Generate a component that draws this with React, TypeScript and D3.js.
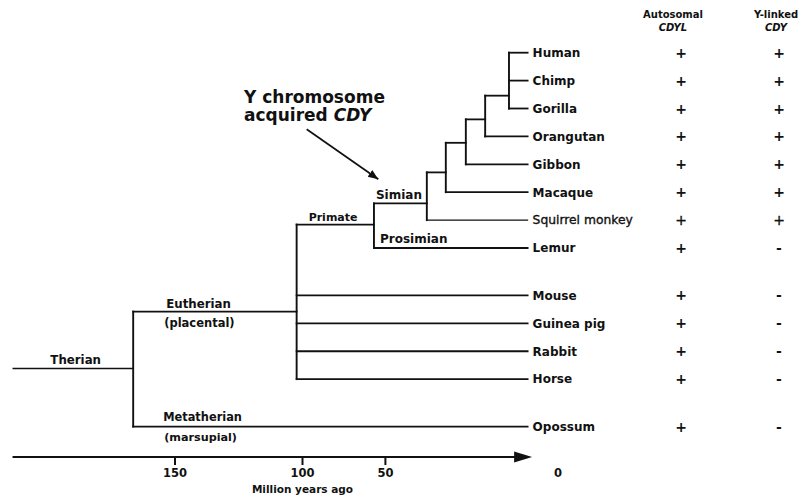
import { useEffect, useRef } from "react";
import * as d3 from "d3";

const width = 809;
const height = 504;

// leaves, top to bottom (row = vertical slot)
const leafNames = ["Human", "Chimp", "Gorilla", "Orangutan", "Gibbon", "Macaque", "Squirrel monkey", "Lemur", "Mouse", "Guinea pig", "Rabbit", "Horse", "Opossum"];
const leafRows = [0, 1, 2, 3, 4, 5, 6, 7, 8.7, 9.7, 10.7, 11.7, 13.4];
const autosomalCDYL = ["+", "+", "+", "+", "+", "+", "+", "+", "+", "+", "+", "+", "+"];
const yLinkedCDY = ["+", "+", "+", "+", "+", "+", "+", "-", "-", "-", "-", "-", "-"];
const leafAge = 8.8;

// internal nodes (age in Mya as drawn, row of the stem)
const nodeNames = ["hcg", "hcgo", "hominoid", "catarrhine", "simian", "primate", "eutherian", "therian"];
const nodeAges = [14.2, 21.1, 26.7, 32.5, 38.0, 56.9, 102.3, 166.4];
const nodeRows = [1.54, 2.39, 3.23, 4.29, 5.4, 6.16, 9.28, 11.32];
const nodeChildren = [
  ["Human", "Chimp", "Gorilla"],
  ["hcg", "Orangutan"],
  ["hcgo", "Gibbon"],
  ["hominoid", "Macaque"],
  ["catarrhine", "Squirrel monkey"],
  ["simian", "Lemur"],
  ["primate", "Mouse", "Guinea pig", "Rabbit", "Horse"],
  ["eutherian", "Opossum"],
];
const rootAge = 213.4;

// time axis (the original is not drawn to scale)
const tickValues = [150, 100, 50];
const tickLabels = ["150", "100", "50", "0"];
const axisStart = 213.7;
const axisEnd = 7.5;

const font = "'DejaVu Sans', sans-serif";

function App() {
  const ref = useRef(null);

  useEffect(() => {
    const root = d3.select(ref.current);
    root.selectAll("*").remove();
    const svg = root
      .append("svg")
      .attr("width", width)
      .attr("height", height)
      .style("position", "absolute")
      .style("left", 0)
      .style("top", 0)
      .style("background", "#fff");

    const x = d3.scaleLinear().domain([150, 100, 50, 0]).range([175, 302.5, 385.4, 558]);
    const y = d3.scaleLinear().domain([0, 7]).range([52.7, 248]);

    // lookup of age/row by name
    const info = {};
    leafNames.forEach((n, i) => (info[n] = { age: leafAge, row: leafRows[i] }));
    nodeNames.forEach((n, i) => (info[n] = { age: nodeAges[i], row: nodeRows[i] }));

    const thin = (n) => n === "Squirrel monkey";
    const g = svg.append("g").attr("stroke", "#111").attr("fill", "none").attr("stroke-linecap", "square");

    // tree branches
    nodeNames.forEach((n, i) => {
      const kids = nodeChildren[i];
      const rows = kids.map((k) => info[k].row);
      g.append("line")
        .attr("x1", x(nodeAges[i]))
        .attr("x2", x(nodeAges[i]))
        .attr("y1", y(d3.min(rows)))
        .attr("y2", y(d3.max(rows)))
        .attr("stroke-width", 1.9);
      kids.forEach((k) => {
        g.append("line")
          .attr("x1", x(nodeAges[i]))
          .attr("x2", x(info[k].age))
          .attr("y1", y(info[k].row))
          .attr("y2", y(info[k].row))
          .attr("stroke-width", thin(k) ? 1.1 : 1.8);
      });
    });
    // root stem
    g.append("line")
      .attr("x1", x(rootAge))
      .attr("x2", x(info.therian.age))
      .attr("y1", y(info.therian.row))
      .attr("y2", y(info.therian.row))
      .attr("stroke-width", 1.6);

    // leaf labels and presence columns
    const t = svg.append("g").attr("font-family", font).attr("fill", "#111");
    const weight = (sel, n) =>
      thin(n)
        ? sel.attr("font-weight", "normal").attr("stroke", "#111").attr("stroke-width", 0.35)
        : sel.attr("font-weight", "bold");
    leafNames.forEach((n, i) => {
      const yy = y(leafRows[i]);
      weight(
        t.append("text")
          .attr("x", x(leafAge) + 5)
          .attr("y", yy + 4.3)
          .attr("font-size", thin(n) ? 12.3 : 12)
          .text(n),
        n
      );
      weight(
        t.append("text")
          .attr("x", 681)
          .attr("y", yy + 5)
          .attr("text-anchor", "middle")
          .attr("font-size", 14)
          .text(autosomalCDYL[i]),
        n
      );
      weight(
        t.append("text")
          .attr("x", 779)
          .attr("y", yy + 5)
          .attr("text-anchor", "middle")
          .attr("font-size", 14)
          .text(yLinkedCDY[i]),
        n
      );
    });

    // column headers
    const header = (cx, top, gene) => {
      t.append("text").attr("x", cx).attr("y", 17.5).attr("text-anchor", "middle")
        .attr("font-size", 10).attr("font-weight", "bold").text(top);
      t.append("text").attr("x", cx).attr("y", 31).attr("text-anchor", "middle")
        .attr("font-size", 10).attr("font-weight", "bold").attr("font-style", "italic").text(gene);
    };
    header(673, "Autosomal", "CDYL");
    header(776, "Y-linked", "CDY");

    // branch labels
    const lab = (text, px, py, size) =>
      t.append("text").attr("x", px).attr("y", py).attr("font-size", size).attr("font-weight", "bold").text(text);
    const yT = y(info.therian.row);
    const yE = y(info.eutherian.row);
    const yO = y(info.Opossum.row);
    const yP = y(info.primate.row);
    const yS = y(info.simian.row);
    const yL = y(info.Lemur.row);
    lab("Therian", x(rootAge) + 37, yT - 4.5, 11.8);
    lab("Eutherian", x(info.therian.age) + 33, yE - 4, 11.8);
    lab("(placental)", x(info.therian.age) + 31, yE + 15, 11.5);
    lab("Metatherian", x(info.therian.age) + 30, yO - 6, 11.4);
    lab("(marsupial)", x(info.therian.age) + 31, yO + 14, 11.2);
    lab("Primate", x(info.eutherian.age) + 12, yP - 3.5, 11);
    lab("Simian", x(info.primate.age) + 2, yS - 4.5, 12);
    lab("Prosimian", x(info.primate.age) + 6, yL - 5, 12);

    // annotation
    const title = t.append("text").attr("font-size", 17).attr("font-weight", "bold");
    title.append("tspan").attr("x", 244).attr("y", 103).text("Y chromosome");
    const l2 = title.append("tspan").attr("x", 244).attr("y", 120.5);
    l2.text("acquired ");
    title.append("tspan").attr("font-style", "italic").text("CDY");

    const defs = svg.append("defs");
    defs.append("marker")
      .attr("id", "ah")
      .attr("viewBox", "0 0 10 10")
      .attr("refX", 10)
      .attr("refY", 5)
      .attr("markerWidth", 6)
      .attr("markerHeight", 6)
      .attr("markerUnits", "strokeWidth")
      .attr("orient", "auto")
      .append("path")
      .attr("d", "M0,1 L10,5 L0,9 Z")
      .attr("fill", "#111");
    svg.append("line")
      .attr("x1", 306.7).attr("y1", 129.3)
      .attr("x2", 378.3).attr("y2", 179.3)
      .attr("stroke", "#111").attr("stroke-width", 1.7)
      .attr("marker-end", "url(#ah)");

    // time axis
    const ay = 457;
    const ax = svg.append("g").attr("font-family", font).attr("fill", "#111");
    ax.append("line")
      .attr("x1", x(axisStart)).attr("x2", x(axisEnd) - 14)
      .attr("y1", ay).attr("y2", ay)
      .attr("stroke", "#111").attr("stroke-width", 2.2);
    ax.append("path")
      .attr("d", `M${x(axisEnd)},${ay} L${x(axisEnd) - 18},${ay - 5.5} L${x(axisEnd) - 18},${ay + 5.5} Z`)
      .attr("fill", "#111");
    ax.selectAll(".tick")
      .data(tickValues)
      .enter()
      .append("line")
      .attr("x1", (d) => x(d)).attr("x2", (d) => x(d))
      .attr("y1", ay).attr("y2", ay + 8)
      .attr("stroke", "#111").attr("stroke-width", 2);
    ax.selectAll(".tl")
      .data(tickLabels)
      .enter()
      .append("text")
      .attr("x", (d) => x(+d))
      .attr("y", ay + 20)
      .attr("text-anchor", "middle")
      .attr("font-size", 11.5)
      .attr("font-weight", "bold")
      .text((d) => d);
    ax.append("text")
      .attr("x", x(100))
      .attr("y", ay + 36)
      .attr("text-anchor", "middle")
      .attr("font-size", 10.5)
      .attr("font-weight", "bold")
      .text("Million years ago");
  }, []);

  return <div ref={ref} />;
}

export default App;
